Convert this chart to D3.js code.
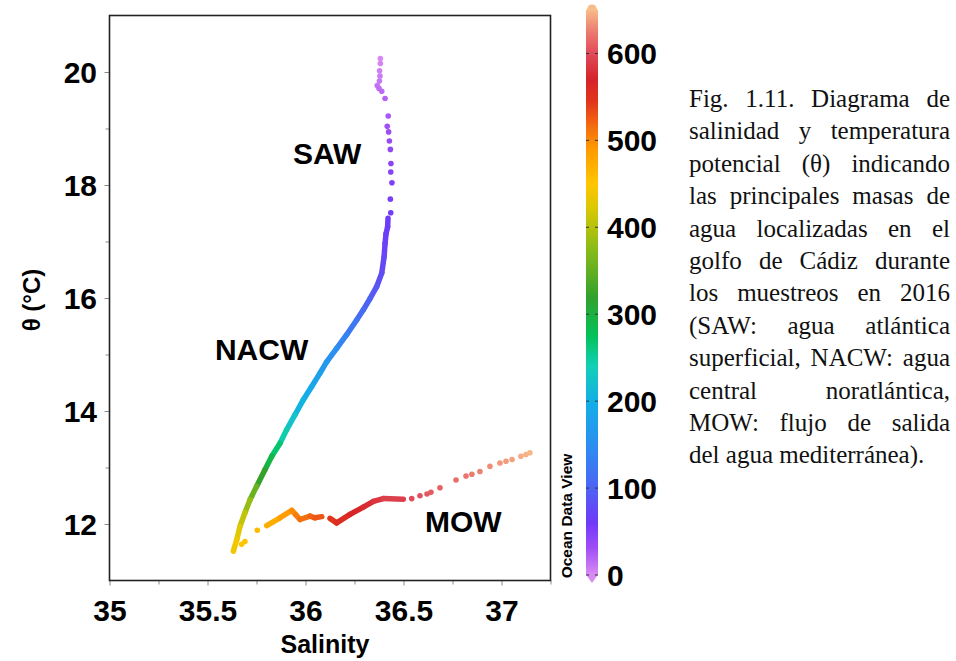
<!DOCTYPE html>
<html>
<head>
<meta charset="utf-8">
<script src="https://cdn.jsdelivr.net/npm/d3@7"></script>
<style>
  body { margin: 0; background: #fff; }
  svg { display: block; }
</style>
</head>
<body>
<svg width="956" height="661"></svg>
<script>
// continuous CTD trace, SAW base -> NACW -> bottom of NACW
var nacwSalinity = [36.421, 36.419, 36.411, 36.406, 36.401, 36.389, 36.363, 36.329, 36.295, 36.261, 36.210, 36.159, 36.108, 36.074,
  36.031, 35.989, 35.946, 35.904, 35.870, 35.828, 35.793, 35.751, 35.717, 35.691, 35.666, 35.649, 35.632];
var nacwTheta = [17.41, 17.26, 17.14, 16.97, 16.73, 16.44, 16.20, 15.99, 15.79, 15.61, 15.35, 15.11, 14.87, 14.67,
  14.43, 14.20, 13.93, 13.67, 13.43, 13.20, 12.96, 12.67, 12.43, 12.20, 11.96, 11.72, 11.52];
var nacwDepth = [60, 62, 64, 66, 70, 76, 85, 95, 105, 115, 130, 145, 160, 172,
  185, 198, 215, 235, 255, 280, 305, 340, 370, 395, 420, 435, 445];

// continuous MOW trace (null = break in the trace)
var mowSalinity = [35.802, 35.870, 35.930, 35.951, 35.972, 36.023, 36.048, 36.083, null,
  36.125, 36.159, 36.227, 36.295, 36.346, 36.397, 36.499];
var mowTheta = [11.97, 12.11, 12.24, 12.16, 12.08, 12.14, 12.11, 12.13, null,
  12.10, 12.02, 12.17, 12.30, 12.40, 12.45, 12.44];
var mowDepth = [468, 480, 494, 502, 510, 518, 524, 530, null,
  540, 550, 562, 572, 580, 588, 596];

// isolated samples (upper SAW, start of MOW, MOW tail)
var dotSalinity = [36.382, 36.382, 36.378, 36.380, 36.377, 36.366, 36.375, 36.389, 36.406, 36.422, 36.417, 36.424, 36.428,
  36.433, 36.436, 36.435, 36.441, 36.433, 36.435,
  35.674, 35.691, 35.754,
  36.542, 36.584, 36.620, 36.640, 36.686, 36.768, 36.819, 36.849, 36.890, 36.941, 36.992, 37.023, 37.054, 37.099, 37.125, 37.145];
var dotTheta = [20.24, 20.15, 20.02, 19.93, 19.84, 19.76, 19.71, 19.66, 19.53, 19.22, 19.04, 18.94, 18.78,
  18.63, 18.38, 18.23, 18.04, 17.75, 17.51,
  11.64, 11.69, 11.89,
  12.45, 12.50, 12.53, 12.56, 12.64, 12.78, 12.85, 12.88, 12.93, 13.02, 13.08, 13.11, 13.14, 13.20, 13.23, 13.26];
var dotDepth = [1, 3, 6, 8, 10, 12, 14, 16, 20, 26, 30, 33, 36,
  40, 44, 47, 50, 54, 58,
  448, 452, 460,
  600, 604, 607, 609, 612, 618, 622, 625, 628, 632, 636, 638, 640, 644, 646, 648];

var massNames = ['SAW', 'NACW', 'MOW'];
var massSalinity = [35.936, 35.538, 36.610];
var massTheta = [18.37, 14.905, 11.866];

var xTicks = [35, 35.5, 36, 36.5, 37];
var xMinor = [35.25, 35.75, 36.25, 36.75, 37.25];
var yTicks = [12, 14, 16, 18, 20];
var yMinor = [13, 15, 17, 19];
var colorTicks = [0, 100, 200, 300, 400, 500, 600];

var paletteValues = [0, 30, 60, 100, 150, 200, 240, 275, 320, 370, 420, 450, 490, 520, 545, 570, 600, 625, 650];
var paletteColors = ['#d98bf3', '#a24ff6', '#7039f8', '#4d63f3', '#2b8ff0', '#12afe6', '#12cfb8', '#03c25a', '#32a12c',
  '#82b91a', '#d6c804', '#ffc600', '#ff9a00', '#f26412', '#e0351b', '#d6232a', '#e04a5a', '#ec7a70', '#f8bb8a'];

var captionLines = [
  'Fig. 1.11. Diagrama de',
  'salinidad y temperatura',
  'potencial (θ) indicando',
  'las principales masas de',
  'agua localizadas en el',
  'golfo de Cádiz durante',
  'los muestreos en 2016',
  '(SAW: agua atlántica',
  'superficial, NACW: agua',
  'central noratlántica,',
  'MOW: flujo de salida',
  'del agua mediterránea).'
];

var svg = d3.select('svg');
var frame = { l: 109.5, r: 550.5, t: 15.5, b: 580.5 };
var bar = { x: 586, w: 12, t: 10, b: 575 };
var sansFont = '"Liberation Sans", Arial, sans-serif';

var xScale = d3.scaleLinear().domain([35, 37.25]).range([frame.l, frame.r]);
var yScale = d3.scaleLinear().domain([11, 21]).range([frame.b, frame.t]);
var barScale = d3.scaleLinear().domain([0, 650]).range([bar.b, bar.t]);
var colorScale = d3.scaleLinear().domain(paletteValues).range(paletteColors);

// axes
var xMinorG = svg.append('g').attr('transform', 'translate(0,' + frame.b + ')')
  .call(d3.axisBottom(xScale).tickValues(xMinor).tickSize(4).tickFormat(''));
var xAxisG = svg.append('g').attr('transform', 'translate(0,' + frame.b + ')')
  .call(d3.axisBottom(xScale).tickValues(xTicks).tickSize(5).tickFormat(d3.format('')));
var yMinorG = svg.append('g').attr('transform', 'translate(' + frame.l + ',0)')
  .call(d3.axisLeft(yScale).tickValues(yMinor).tickSize(4).tickFormat(''));
var yAxisG = svg.append('g').attr('transform', 'translate(' + frame.l + ',0)')
  .call(d3.axisLeft(yScale).tickValues(yTicks).tickSize(5));

[xMinorG, xAxisG, yMinorG, yAxisG].forEach(function(g) {
  g.select('.domain').remove();
  g.selectAll('.tick line').attr('stroke', '#8a8a8a');
});
xAxisG.selectAll('.tick text')
  .attr('y', 19).attr('dy', '0.71em')
  .style('font', 'bold 30px ' + sansFont).attr('fill', '#000');
yAxisG.selectAll('.tick text')
  .attr('x', -12.5).attr('dy', '0.35em')
  .style('font', 'bold 30px ' + sansFont).attr('fill', '#000');

svg.append('rect')
  .attr('x', frame.l).attr('y', frame.t)
  .attr('width', frame.r - frame.l).attr('height', frame.b - frame.t)
  .attr('fill', 'none').attr('stroke', '#222').attr('stroke-width', 1.6);

svg.append('text')
  .text('Salinity')
  .attr('x', 325).attr('y', 653)
  .attr('text-anchor', 'middle')
  .style('font', 'bold 25px ' + sansFont);
svg.append('text')
  .text('θ (°C)')
  .attr('transform', 'translate(40,300) rotate(-90)')
  .attr('text-anchor', 'middle')
  .style('font', 'bold 24px ' + sansFont);

// traces
var plotG = svg.append('g');
function drawTrace(sal, th, dep) {
  var segs = [];
  for (var i = 0; i < sal.length - 1; i++) {
    if (sal[i] == null || sal[i + 1] == null) continue;
    segs.push({ a: i, b: i + 1, d: (dep[i] + dep[i + 1]) / 2 });
  }
  plotG.selectAll(null)
    .data(segs)
    .enter()
    .append('line')
    .attr('x1', d => xScale(sal[d.a])).attr('y1', d => yScale(th[d.a]))
    .attr('x2', d => xScale(sal[d.b])).attr('y2', d => yScale(th[d.b]))
    .attr('stroke', d => colorScale(d.d))
    .attr('stroke-width', 5.5)
    .attr('stroke-linecap', 'round');
}
drawTrace(nacwSalinity, nacwTheta, nacwDepth);
drawTrace(mowSalinity, mowTheta, mowDepth);

plotG.selectAll('.dot')
  .data(dotSalinity.map((s, i) => ({ s: s, t: dotTheta[i], d: dotDepth[i] })))
  .enter()
  .append('circle')
  .attr('class', 'dot')
  .attr('cx', d => xScale(d.s))
  .attr('cy', d => yScale(d.t))
  .attr('r', 2.8)
  .attr('fill', d => colorScale(d.d));

plotG.selectAll('.mass')
  .data(massNames)
  .enter()
  .append('text')
  .attr('class', 'mass')
  .text(d => d)
  .attr('x', (d, i) => xScale(massSalinity[i]))
  .attr('y', (d, i) => yScale(massTheta[i]))
  .style('font', 'bold 30px ' + sansFont);

// colour bar
var grad = svg.append('defs').append('linearGradient')
  .attr('id', 'odv').attr('x1', 0).attr('y1', 1).attr('x2', 0).attr('y2', 0);
grad.selectAll('stop')
  .data(paletteValues)
  .enter()
  .append('stop')
  .attr('offset', d => d / 650)
  .attr('stop-color', (d, i) => paletteColors[i]);

svg.append('rect')
  .attr('x', bar.x).attr('y', bar.t)
  .attr('width', bar.w).attr('height', bar.b - bar.t)
  .attr('fill', 'url(#odv)');
svg.append('path')
  .attr('d', 'M' + bar.x + ',' + (bar.t + 1) + 'L' + (bar.x + 3) + ',' + (bar.t - 5) + 'Q' + (bar.x + bar.w / 2) + ',' + (bar.t - 6) + ' ' + (bar.x + bar.w - 3) + ',' + (bar.t - 5) + 'L' + (bar.x + bar.w) + ',' + (bar.t + 1) + 'Z')
  .attr('fill', colorScale(650));
svg.append('path')
  .attr('d', 'M' + bar.x + ',' + (bar.b - 0.5) + 'L' + (bar.x + bar.w) + ',' + (bar.b - 0.5) + 'L' + (bar.x + bar.w / 2) + ',' + (bar.b + 8) + 'Z')
  .attr('fill', colorScale(0));

var cTick = svg.append('g').selectAll('g')
  .data(colorTicks)
  .enter()
  .append('g')
  .attr('transform', d => 'translate(0,' + barScale(d) + ')');
cTick.append('line').attr('x1', bar.x).attr('x2', bar.x + 3).attr('stroke', '#333');
cTick.append('line').attr('x1', bar.x + bar.w - 3).attr('x2', bar.x + bar.w).attr('stroke', '#333');
cTick.append('text')
  .text(d => d)
  .attr('x', 607).attr('dy', '0.35em')
  .style('font', 'bold 30px ' + sansFont);

svg.append('text')
  .text('Ocean Data View')
  .attr('transform', 'translate(572,516) rotate(-90)')
  .attr('text-anchor', 'middle')
  .style('font', 'bold 15.5px ' + sansFont);

// caption, justified by hand
var capLeft = 689, capRight = 950, capTop = 107, capStep = 32.4;
captionLines.forEach(function(line, li) {
  var words = line.split(' ');
  var g = svg.append('g').attr('transform', 'translate(0,' + (capTop + li * capStep) + ')');
  var texts = words.map(function(w) {
    return g.append('text').text(w)
      .style('font', '25px "Liberation Serif", "Times New Roman", serif')
      .attr('fill', '#111');
  });
  var widths = texts.map(t => t.node().getComputedTextLength());
  var gap = li == captionLines.length - 1 ? 6.25 :
    (capRight - capLeft - d3.sum(widths)) / (words.length - 1);
  var x = capLeft;
  texts.forEach(function(t, i) {
    t.attr('x', x);
    x += widths[i] + gap;
  });
});
</script>
</body>
</html>
